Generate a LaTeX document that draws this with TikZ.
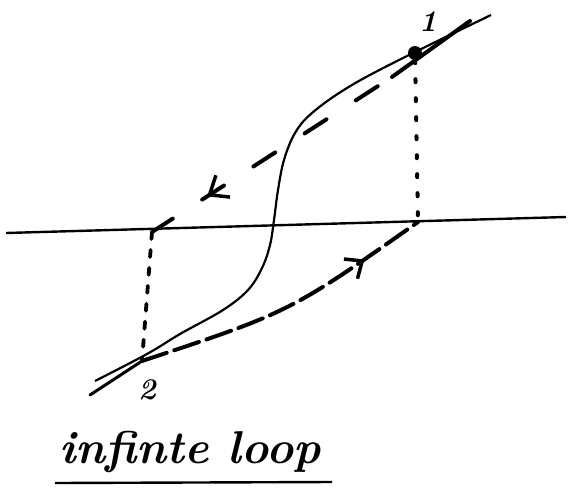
\documentclass[tikz,border=0pt]{standalone}
\usetikzlibrary{arrows.meta,decorations.markings}
\begin{document}
\begin{tikzpicture}[x=1pt,y=-1pt,
  axisline/.style={line width=2.4pt},
  curveline/.style={line width=2.2pt},
  solidpart/.style={line width=3pt, line cap=round},
  updash/.style={line width=4pt, line cap=round, dash pattern=on 26pt off 35pt, dash phase=44pt},
  lowdash/.style={line width=4pt, line cap=round, dash pattern=on 26pt off 8pt},
  dotline/.style={line width=4pt, line cap=round, dash pattern=on 3pt off 16pt},
  dashvert/.style={line width=3.8pt, line cap=round, dash pattern=on 7pt off 11pt},
  lbl/.style={inner sep=0pt, font=\bfseries\itshape\fontsize{30}{32}\selectfont},
  ptdot/.style={circle, fill=black, inner sep=0pt, minimum size=14pt}]
\useasboundingbox (0,0) rectangle (569,487);
% axis
\coordinate (axL) at (6,233);
\coordinate (axR) at (566,217);
\draw[axisline] (axL) -- (axR);
% key points
\node[ptdot] (p1) at (415,53) {};
\coordinate (u1) at (392,77);
\coordinate (e1) at (470,21);
\coordinate (a2) at (152,232);
\coordinate (q1) at (418,222);
\coordinate (p2) at (142,361);
\coordinate (e2) at (90,395);
% S-curve
\draw[curveline] plot[smooth, tension=0.6] coordinates {(95,381) (147,354) (180,334) (223,310) (248,290) (262,268) (270,245) (274,220) (278,190) (284,160) (295,133) (312,113) (347,88) (397,61) (491,15)};
% upper dashed branch with arrow
\draw[solidpart, line width=4pt] (e1) -- (u1);
\draw[updash, postaction={decorate, decoration={markings, mark=at position 0.77 with {\arrow[line width=3.5pt]{Straight Barb[length=16pt,width=26pt]}}}}] (u1) -- (a2);
% lower dashed branch with arrow
\draw[solidpart] (e2) -- (p2);
\draw[lowdash, postaction={decorate, decoration={markings, mark=at position 0.79 with {\arrow[line width=3.5pt]{Straight Barb[length=14pt,width=24pt]}}}}] (p2) .. controls (290,312) .. (q1);
% vertical dotted lines
\draw[dotline] (p1) -- (q1);
\draw[dashvert] (a2) -- (p2);
% labels
\node[lbl] (n1) at (428,22) {1};
\node[lbl] (n2) at (147,390) {2};
\node[anchor=base, inner sep=0pt, font=\bfseries\itshape\fontsize{46}{50}\selectfont] (title) at (190,463) {infinte loop};
\coordinate (ul1) at (55,483);
\coordinate (ul2) at (332,482);
\draw[line width=2.4pt] (ul1) -- (ul2);
\end{tikzpicture}
\end{document}
